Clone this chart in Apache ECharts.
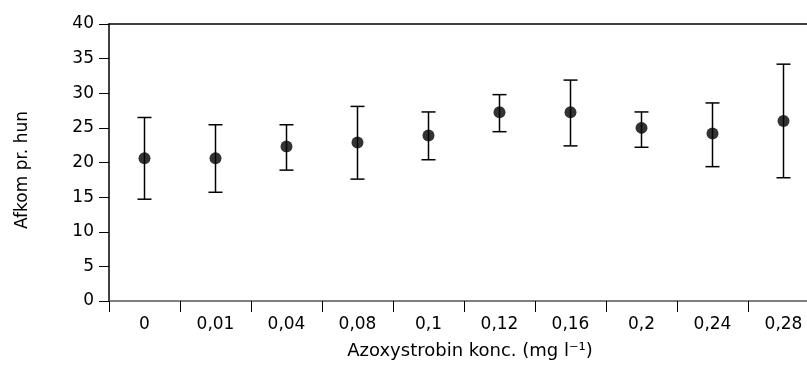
<!DOCTYPE html>
<html>
<head>
<meta charset="utf-8">
<script src="https://cdn.jsdelivr.net/npm/echarts@6/dist/echarts.min.js"></script>
<style>html,body{margin:0;padding:0;background:#fff;overflow:hidden;width:807px;height:365px}#c{width:819px;height:365px}</style>
</head>
<body>
<div id="c"></div>
<script>
var categories = ['0', '0,01', '0,04', '0,08', '0,1', '0,12', '0,16', '0,2', '0,24', '0,28'];
var means = [20.6, 20.6, 22.3, 22.9, 23.9, 27.25, 27.25, 25.0, 24.2, 26.0];
var upper = [26.5, 25.45, 25.45, 28.1, 27.3, 29.8, 31.9, 27.3, 28.6, 34.2];
var lower = [14.7, 15.7, 18.9, 17.6, 20.4, 24.45, 22.4, 22.2, 19.4, 17.8];
var yTicks = [0, 5, 10, 15, 20, 25, 30, 35, 40];

var FONT = 'DejaVu Sans';
var chart = echarts.init(document.getElementById('c'), null, {renderer: 'canvas'});
var errData = categories.map(function (c, i) { return [i, lower[i], upper[i]]; });

chart.setOption({
  animation: false,
  backgroundColor: '#fff',
  grid: {left: 109, top: 24, width: 710, height: 281.7, containLabel: false},
  xAxis: [{
    type: 'category',
    data: categories,
    position: 'bottom',
    boundaryGap: true,
    axisLine: {show: true, lineStyle: {color: '#555', width: 1.5}},
    axisTick: {show: true, alignWithLabel: false, interval: 0, length: 11, lineStyle: {color: '#000', width: 1}},
    axisLabel: {interval: 0, margin: 15, color: '#000', fontFamily: FONT, fontSize: 17},
    splitLine: {show: false},
    name: 'Azoxystrobin konc. (mg l\u207B\u00B9)',
    nameLocation: 'middle',
    nameGap: 41,
    nameTextStyle: {color: '#000', fontFamily: FONT, fontSize: 18, padding: [0, 0, 0, 12]}
  }, {
    type: 'category',
    data: categories,
    position: 'top',
    axisLine: {show: true, lineStyle: {color: '#000', width: 1.5}},
    axisTick: {show: false},
    axisLabel: {show: false},
    splitLine: {show: false}
  }],
  yAxis: {
    type: 'value',
    min: 0, max: 40, interval: 5,
    axisLine: {show: true, lineStyle: {color: '#000', width: 1.5}},
    axisTick: {show: true, length: 10, lineStyle: {color: '#000', width: 1}},
    axisLabel: {margin: 15, color: '#000', fontFamily: FONT, fontSize: 17,
      formatter: function (v) { return yTicks.indexOf(v) >= 0 ? String(v) : ''; }},
    splitLine: {show: false},
    name: 'Afkom pr. hun',
    nameLocation: 'middle',
    nameGap: 78,
    nameRotate: 90,
    nameTextStyle: {color: '#000', fontFamily: FONT, fontSize: 17, padding: [0, 15, 0, 0]}
  },
  series: [{
    type: 'custom',
    data: errData,
    z: 2,
    renderItem: function (params, api) {
      var x = api.value(0);
      var lo = api.coord([x, api.value(1)]);
      var hi = api.coord([x, api.value(2)]);
      var hw = 7;
      var st = {stroke: '#000', lineWidth: 1.5};
      return {type: 'group', children: [
        {type: 'line', shape: {x1: lo[0], y1: lo[1], x2: hi[0], y2: hi[1]}, style: st},
        {type: 'line', shape: {x1: hi[0] - hw, y1: hi[1], x2: hi[0] + hw, y2: hi[1]}, style: st},
        {type: 'line', shape: {x1: lo[0] - hw, y1: lo[1], x2: lo[0] + hw, y2: lo[1]}, style: st}
      ]};
    }
  }, {
    type: 'scatter',
    data: means,
    symbol: 'circle',
    symbolSize: 12,
    z: 3,
    itemStyle: {color: '#000'}
  }]
});
</script>
</body>
</html>
